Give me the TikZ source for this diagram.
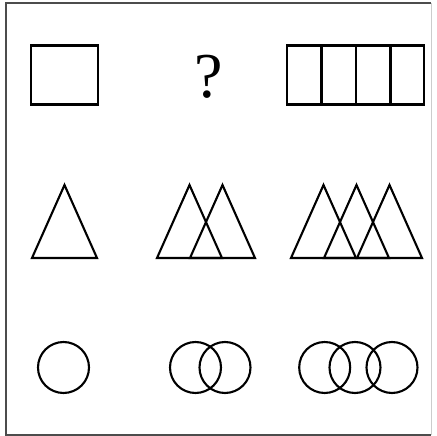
\documentclass[tikz,border=0pt]{standalone}
\usepackage{fontspec}
\setmainfont{Liberation Serif}
\begin{document}
\begin{tikzpicture}[x=1pt,y=-1pt,
  fig/.style={draw=black,line width=2.1pt,line join=miter},
  frm/.style={draw=black!70,line width=2pt},
  qm/.style={inner sep=0pt,anchor=base,font=\fontsize{64}{64}\selectfont}]
\useasboundingbox (0,0) rectangle (437,436);
\draw[frm] (431,3.5) -- (5.5,3.5) -- (5.5,434.5) -- (431,434.5);
\draw[black!20,line width=0.8pt] (431,3.5) -- (431,434.5);
% row 1: squares
\draw[fig] (31,45.5) rectangle (98,104.5);
\node[qm] (qmark) at (209,98) {?};
\draw[fig] (287,45.5) rectangle (424,104.5);
\foreach \x in {321.5,356,390.5}
  \draw[fig] (\x,45.5) -- (\x,104.5);
% row 2: triangles
\foreach \x in {32,157,190,291,324,357}
  \draw[fig] (\x,258) -- ++(32.5,-73) -- ++(32.5,73) -- cycle;
% row 3: circles
\foreach \x in {63.5,195.5,225,324.7,355,392}
  \draw[fig] (\x,367.5) circle (25.5pt);
\end{tikzpicture}
\end{document}
